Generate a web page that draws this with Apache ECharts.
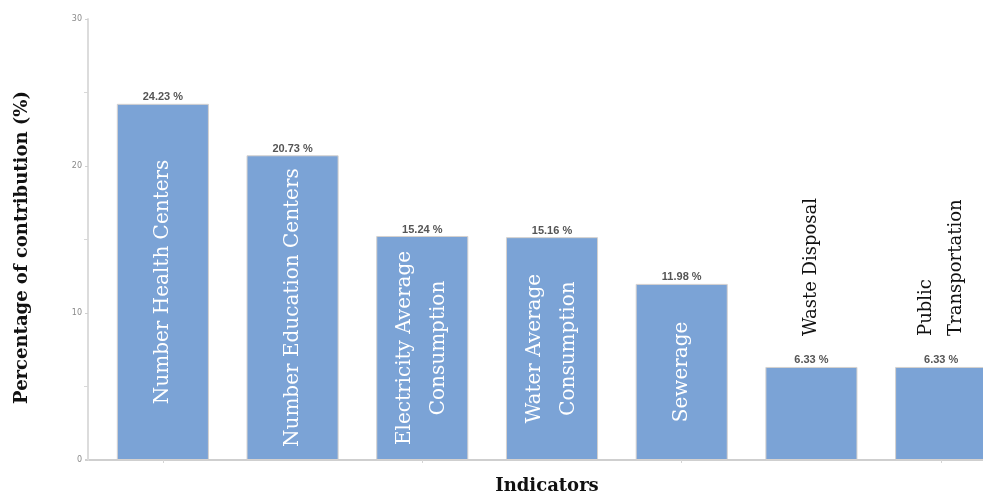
<!DOCTYPE html>
<html>
<head>
<meta charset="utf-8">
<script src="https://cdn.jsdelivr.net/npm/echarts@6/dist/echarts.min.js"></script>
<style>
  html, body { margin: 0; padding: 0; background: #fff; overflow: hidden; }
  #chart { width: 983px; height: 498px; }
</style>
</head>
<body>
<div id="chart"></div>
<script>
// Indicators and their share of the overall contribution (%)
const categories = [
  'Number Health Centers',
  'Number Education Centers',
  'Electricity Average\nConsumption',
  'Water Average\nConsumption',
  'Sewerage',
  'Waste Disposal',
  'Public\nTransportation'
];
const contribution = [24.23, 20.73, 15.24, 15.16, 11.98, 6.33, 6.33];
const yTicks = [0, 10, 20, 30];

// Short bars carry their name above the bar instead of inside it
const outsideNames = ['Waste Disposal', 'Public\nTransportation'];

const serif = 'DejaVu Serif';
const chart = echarts.init(document.getElementById('chart'));

const nameData = contribution.map((v, i) => {
  const outside = outsideNames.includes(categories[i]);
  return {
    value: v,
    label: outside ? {
      show: true,
      position: 'top',
      rotate: 90,
      align: 'left',
      verticalAlign: 'middle',
      distance: 31,
      color: '#111',
      fontFamily: serif,
      fontSize: 18,
      lineHeight: 30,
      formatter: categories[i]
    } : {
      show: true,
      position: 'inside',
      rotate: 90,
      align: 'center',
      verticalAlign: 'middle',
      color: '#ffffff',
      fontFamily: serif,
      fontSize: 20,
      lineHeight: 34,
      formatter: categories[i]
    }
  };
});

chart.setOption({
  animation: false,
  // the last category runs past the right edge of the canvas
  grid: { left: 98, width: 908, top: 19, bottom: 38, containLabel: false, outerBoundsMode: 'none' },
  xAxis: {
    type: 'category',
    data: categories,
    name: 'Indicators',
    nameLocation: 'middle',
    nameGap: 17,
    nameTextStyle: { fontFamily: serif, fontWeight: 'bold', fontSize: 18, color: '#111', padding: [0, 10, 0, 0] },
    axisLine: { lineStyle: { color: '#cfcfcf', width: 2 } },
    axisTick: { show: true, alignWithLabel: true, length: 3, lineStyle: { color: '#d5d5d5' } },
    axisLabel: { show: false }
  },
  yAxis: {
    type: 'value',
    min: yTicks[0],
    max: yTicks[yTicks.length - 1],
    interval: 10,
    offset: 10,
    name: 'Percentage of contribution (%)',
    nameLocation: 'middle',
    nameGap: 57,
    nameRotate: 90,
    nameTextStyle: { fontFamily: serif, fontWeight: 'bold', fontSize: 18, color: '#111', padding: [0, 16, 0, 0] },
    axisLine: { show: true, lineStyle: { color: '#dcdcdc', width: 2 } },
    axisTick: { show: true, length: 3, lineStyle: { color: '#cfcfcf' } },
    minorTick: { show: true, splitNumber: 2, length: 4, lineStyle: { color: '#d8d8d8' } },
    splitLine: { show: false },
    axisLabel: { fontSize: 8, color: '#8a8a8a', margin: 6, fontFamily: 'DejaVu Sans' }
  },
  series: [
    {
      type: 'bar',
      data: contribution,
      barCategoryGap: '29%',
      itemStyle: { color: '#7ba3d6', borderColor: '#d6d2cf', borderWidth: 1 },
      label: {
        show: true,
        position: 'top',
        distance: 1,
        fontFamily: 'Liberation Sans',
        fontWeight: 'bold',
        fontSize: 11,
        color: '#555',
        formatter: p => p.value.toFixed(2) + ' %'
      },
      z: 2
    },
    {
      type: 'bar',
      data: nameData,
      barGap: '-100%',
      barCategoryGap: '29%',
      itemStyle: { color: 'rgba(0,0,0,0)' },
      silent: true,
      z: 3
    }
  ]
});

// Extend the baseline back to the offset y-axis line
const zeroPt = chart.convertToPixel({ gridIndex: 0 }, [0, 0]);
chart.setOption({
  graphic: [{
    type: 'line',
    shape: { x1: 85, y1: zeroPt[1], x2: 98, y2: zeroPt[1] },
    style: { stroke: '#cfcfcf', lineWidth: 2 }
  }]
});
</script>
</body>
</html>
